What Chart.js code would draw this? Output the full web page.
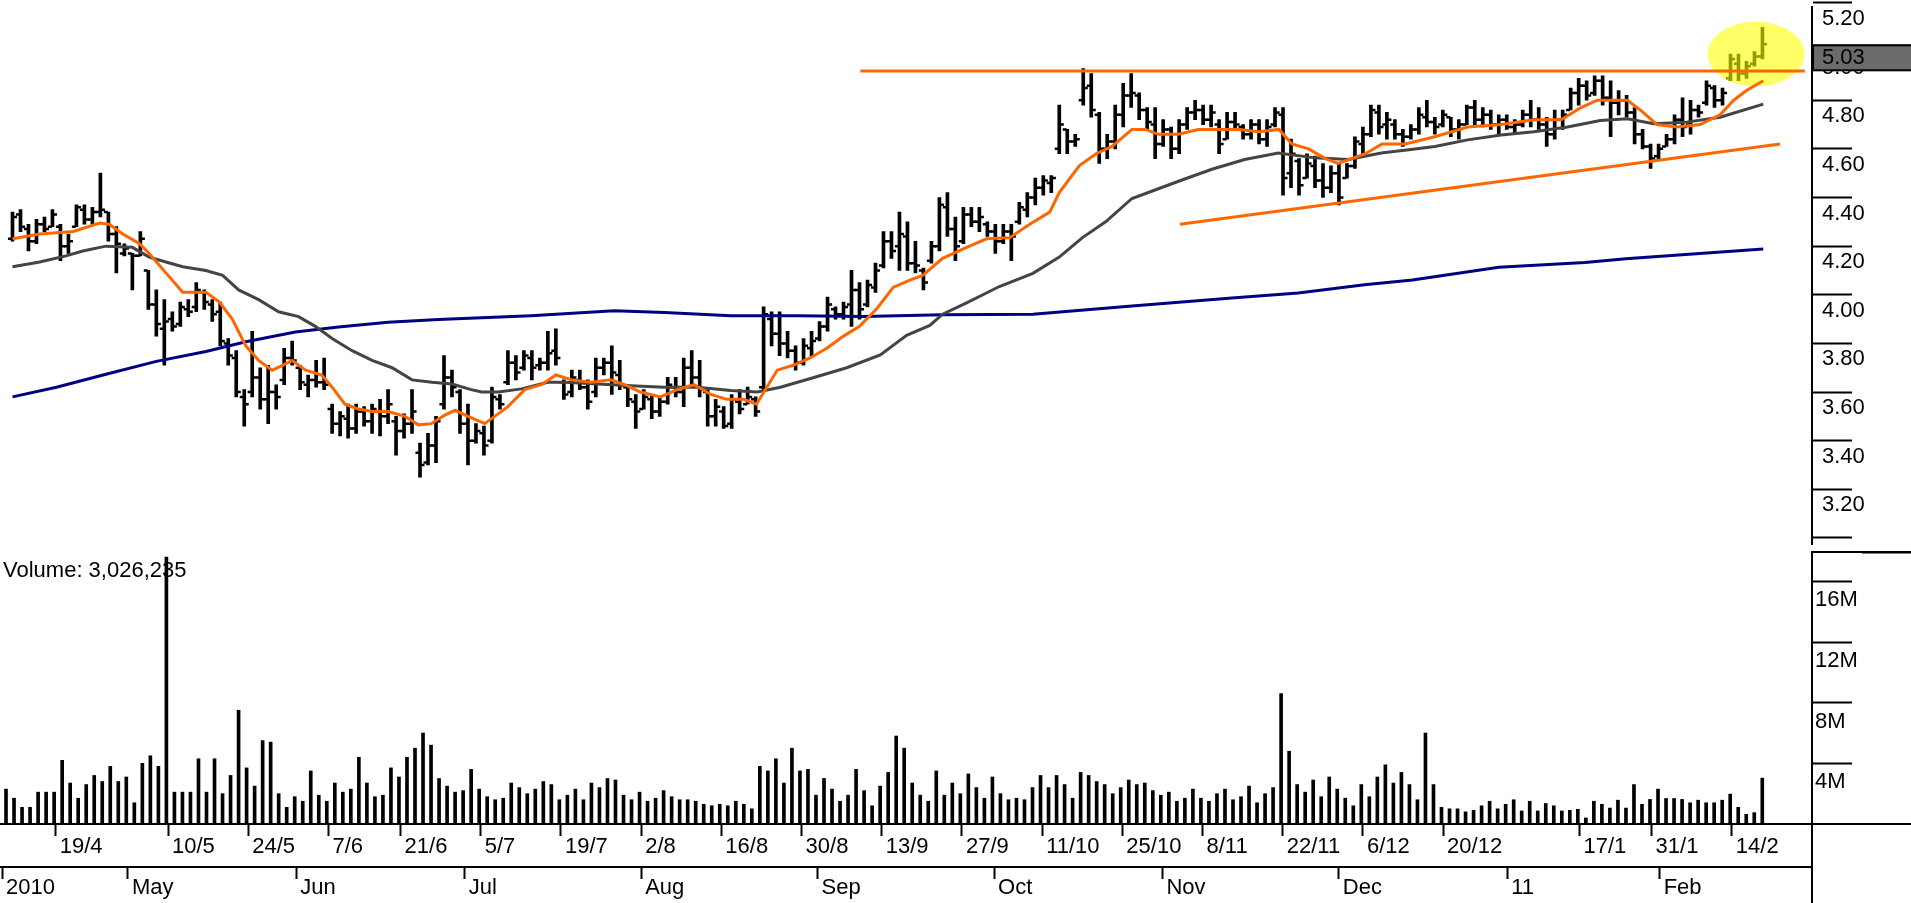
<!DOCTYPE html>
<html>
<head>
<meta charset="utf-8">
<title>Daily price and volume</title>
<script src="https://cdn.jsdelivr.net/npm/chart.js"></script>
<style>
  html, body { margin: 0; padding: 0; background: #fff; }
  #wrap { position: relative; width: 1911px; height: 903px; overflow: hidden; }
  canvas { position: absolute; left: 0; }
  #price-chart { top: 0; }
  #volume-chart { top: 551px; }
</style>
</head>
<body>
<div id="wrap">
  <canvas id="price-chart" width="1911" height="551"></canvas>
  <canvas id="volume-chart" width="1911" height="352"></canvas>
</div>
<script>
// daily bars, 9/4/2010 .. 18/2/2011 (index 0..219)
const highs = [
  4.34,4.35,4.29,4.31,4.32,4.35,4.29,4.25,4.37,4.37, 4.36,4.50,4.34,4.28,4.21,4.17,4.26,4.10,4.02,3.98,
  3.93,3.97,3.98,4.05,4.02,3.98,3.97,3.82,3.77,3.61, 3.85,3.70,3.71,3.63,3.78,3.81,3.71,3.67,3.73,3.74,
  3.55,3.52,3.55,3.55,3.54,3.55,3.57,3.61,3.50,3.51, 3.61,3.39,3.43,3.50,3.75,3.69,3.61,3.55,3.47,3.46,
  3.62,3.59,3.77,3.75,3.77,3.77,3.74,3.85,3.86,3.65, 3.69,3.69,3.65,3.74,3.74,3.79,3.73,3.63,3.59,3.61,
  3.59,3.58,3.66,3.66,3.74,3.77,3.73,3.61,3.57,3.54, 3.59,3.61,3.62,3.58,3.95,3.93,3.93,3.85,3.79,3.82,
  3.85,3.89,3.99,3.95,3.97,4.10,4.05,4.06,4.13,4.26, 4.26,4.34,4.30,4.22,4.11,4.22,4.40,4.42,4.32,4.36,
  4.36,4.36,4.30,4.29,4.29,4.29,4.38,4.42,4.48,4.49, 4.49,4.78,4.68,4.66,4.93,4.91,4.75,4.66,4.78,4.87,
  4.91,4.83,4.77,4.77,4.72,4.69,4.72,4.77,4.80,4.78, 4.78,4.72,4.75,4.75,4.70,4.72,4.72,4.72,4.77,4.77,
  4.64,4.56,4.58,4.57,4.54,4.53,4.54,4.54,4.65,4.69, 4.78,4.78,4.75,4.72,4.68,4.70,4.77,4.80,4.73,4.76,
  4.73,4.72,4.78,4.80,4.77,4.76,4.74,4.74,4.72,4.76, 4.80,4.77,4.73,4.76,4.76,4.85,4.89,4.88,4.90,4.90,
  4.88,4.84,4.82,4.77,4.68,4.62,4.62,4.66,4.74,4.81, 4.80,4.78,4.88,4.86,4.85,4.99,4.99,4.96,5.00,5.10
];
const lows = [
  4.22,4.26,4.18,4.21,4.26,4.28,4.14,4.17,4.28,4.29, 4.29,4.32,4.22,4.09,4.16,4.02,4.16,3.94,3.83,3.71,
  3.85,3.87,3.91,3.93,3.94,3.89,3.79,3.71,3.58,3.46, 3.58,3.53,3.47,3.53,3.63,3.71,3.61,3.58,3.62,3.61,
  3.43,3.42,3.41,3.43,3.46,3.43,3.42,3.47,3.34,3.41, 3.43,3.25,3.30,3.31,3.53,3.58,3.43,3.30,3.39,3.34,
  3.39,3.53,3.63,3.65,3.69,3.65,3.69,3.69,3.71,3.57, 3.58,3.61,3.53,3.58,3.67,3.59,3.61,3.54,3.45,3.53,
  3.49,3.50,3.55,3.58,3.54,3.63,3.58,3.46,3.46,3.45, 3.45,3.51,3.55,3.50,3.61,3.79,3.75,3.74,3.69,3.71,
  3.75,3.81,3.85,3.90,3.90,3.87,3.90,3.95,4.01,4.11, 4.15,4.10,4.10,4.09,4.02,4.13,4.18,4.24,4.14,4.21,
  4.28,4.26,4.24,4.17,4.21,4.14,4.29,4.32,4.37,4.41, 4.42,4.58,4.58,4.61,4.78,4.73,4.54,4.56,4.60,4.69,
  4.77,4.72,4.68,4.56,4.61,4.56,4.58,4.68,4.72,4.70, 4.69,4.58,4.64,4.68,4.64,4.64,4.62,4.61,4.69,4.41,
  4.44,4.41,4.48,4.44,4.40,4.42,4.37,4.48,4.52,4.58, 4.65,4.66,4.64,4.64,4.61,4.64,4.66,4.69,4.66,4.69,
  4.65,4.64,4.70,4.70,4.69,4.68,4.66,4.68,4.66,4.69, 4.69,4.68,4.61,4.64,4.68,4.76,4.78,4.80,4.82,4.78,
  4.65,4.74,4.73,4.62,4.60,4.52,4.56,4.61,4.62,4.65, 4.66,4.73,4.78,4.77,4.78,4.88,4.88,4.89,4.94,4.97
];
const opens = [
  4.23,4.33,4.27,4.22,4.29,4.28,4.28,4.20,4.28,4.35, 4.31,4.34,4.34,4.25,4.17,4.17,4.16,4.10,3.96,3.86,
  3.90,3.88,3.94,3.95,4.01,3.96,3.93,3.80,3.74,3.58, 3.60,3.66,3.57,3.60,3.65,3.74,3.70,3.63,3.65,3.64,
  3.53,3.47,3.49,3.45,3.52,3.48,3.52,3.50,3.48,3.44, 3.47,3.35,3.31,3.38,3.55,3.66,3.60,3.47,3.40,3.43,
  3.40,3.57,3.64,3.72,3.70,3.74,3.71,3.72,3.77,3.64, 3.60,3.65,3.62,3.60,3.70,3.72,3.67,3.62,3.56,3.53,
  3.57,3.52,3.56,3.62,3.60,3.70,3.66,3.60,3.50,3.52, 3.47,3.56,3.55,3.57,3.62,3.90,3.84,3.80,3.77,3.72,
  3.78,3.82,3.87,3.94,3.92,3.96,4.02,3.96,4.03,4.12, 4.22,4.20,4.24,4.13,4.10,4.14,4.20,4.36,4.27,4.22,
  4.33,4.30,4.29,4.26,4.22,4.26,4.30,4.35,4.40,4.44, 4.46,4.60,4.68,4.63,4.80,4.86,4.74,4.60,4.63,4.74,
  4.82,4.82,4.76,4.70,4.62,4.68,4.60,4.70,4.75,4.76, 4.72,4.70,4.64,4.71,4.69,4.66,4.70,4.64,4.70,4.74,
  4.50,4.55,4.48,4.53,4.47,4.44,4.50,4.48,4.53,4.62, 4.66,4.75,4.70,4.70,4.66,4.65,4.68,4.73,4.71,4.70,
  4.73,4.68,4.70,4.77,4.72,4.74,4.70,4.72,4.69,4.70, 4.74,4.72,4.70,4.66,4.72,4.76,4.83,4.86,4.83,4.88,
  4.81,4.79,4.80,4.75,4.66,4.61,4.57,4.61,4.64,4.72, 4.70,4.76,4.79,4.85,4.80,4.89,4.95,4.91,4.95,4.98
];
const closes = [
  4.32,4.28,4.22,4.29,4.27,4.33,4.20,4.22,4.36,4.31, 4.34,4.35,4.25,4.21,4.19,4.16,4.23,3.96,3.88,3.89,
  3.87,3.95,3.93,4.02,3.97,3.92,3.81,3.75,3.60,3.55, 3.66,3.57,3.60,3.58,3.74,3.73,3.64,3.65,3.64,3.63,
  3.47,3.50,3.45,3.52,3.48,3.53,3.50,3.55,3.44,3.47, 3.52,3.30,3.38,3.48,3.66,3.62,3.47,3.40,3.44,3.38,
  3.58,3.55,3.72,3.68,3.75,3.70,3.72,3.76,3.74,3.59, 3.66,3.62,3.56,3.70,3.72,3.68,3.63,3.57,3.52,3.58,
  3.52,3.56,3.63,3.60,3.70,3.66,3.61,3.50,3.54,3.46, 3.57,3.53,3.58,3.52,3.92,3.84,3.80,3.77,3.72,3.79,
  3.81,3.87,3.96,3.92,3.95,4.02,3.94,4.04,4.10,4.22, 4.18,4.25,4.13,4.12,4.05,4.20,4.37,4.27,4.20,4.33,
  4.30,4.32,4.26,4.22,4.26,4.24,4.36,4.40,4.44,4.47, 4.48,4.70,4.63,4.64,4.85,4.76,4.60,4.63,4.74,4.82,
  4.83,4.76,4.71,4.62,4.68,4.60,4.70,4.75,4.76,4.72, 4.75,4.62,4.71,4.70,4.66,4.70,4.64,4.69,4.75,4.48,
  4.58,4.45,4.54,4.47,4.44,4.50,4.40,4.53,4.63,4.66, 4.76,4.69,4.72,4.66,4.65,4.68,4.74,4.71,4.69,4.74,
  4.68,4.70,4.77,4.72,4.74,4.70,4.72,4.69,4.70,4.74, 4.72,4.70,4.66,4.72,4.74,4.83,4.86,4.82,4.88,4.81,
  4.79,4.80,4.75,4.66,4.61,4.56,4.60,4.64,4.72,4.69, 4.76,4.75,4.86,4.80,4.83,4.97,4.91,4.94,4.98,5.03
];
// volume in millions of shares
const volumes = [
  2.3,1.7,1.1,1.1,2.1,2.1,2.1,4.2,2.7,1.7, 2.6,3.2,2.8,3.8,2.8,3.1,1.4,4.0,4.5,3.8,
  17.6,2.1,2.1,2.1,4.3,2.1,4.3,2.0,3.2,7.5, 3.7,2.5,5.5,5.4,2.0,1.1,1.8,1.5,3.5,1.9,
  1.5,2.7,2.1,2.3,4.4,2.7,1.8,1.9,3.7,3.1, 4.4,5.0,6.0,5.2,3.0,2.5,2.1,2.2,3.6,2.3,
  1.8,1.6,1.7,2.7,2.4,2.0,2.3,2.8,2.6,1.6, 1.9,2.3,1.6,2.7,2.4,3.0,2.9,1.9,1.6,2.1,
  1.5,1.7,2.2,1.8,1.6,1.6,1.5,1.3,1.2,1.3, 1.2,1.5,1.3,1.0,3.8,3.5,4.3,2.7,5.0,3.5,
  3.6,1.9,3.0,2.3,1.5,1.9,3.6,2.2,1.2,2.5, 3.4,5.8,5.0,2.7,1.9,1.5,3.5,1.9,2.7,2.0,
  3.3,2.4,1.7,3.1,2.0,1.6,1.7,1.6,2.4,3.2, 2.4,3.2,2.6,1.7,3.4,3.2,2.8,2.6,2.0,2.4,
  2.9,2.6,2.7,2.2,1.9,2.1,1.5,1.7,2.3,1.7, 1.5,2.0,2.3,1.6,1.8,2.5,1.4,2.0,2.4,8.6,
  4.8,2.6,2.1,2.9,1.8,3.1,2.3,1.7,1.2,2.6, 1.8,3.1,3.9,2.7,3.4,2.6,1.6,6.0,2.6,1.1,
  1.0,1.0,0.8,0.9,1.2,1.5,1.0,1.3,1.6,0.86, 1.5,0.86,1.35,1.2,0.86,0.9,0.97,0.4,1.5,1.3,
  1.05,1.57,1.05,2.6,1.3,1.62,2.3,1.68,1.68,1.62, 1.4,1.57,1.4,1.4,1.57,1.97,1.1,0.64,0.75,3.026235
];

// moving averages: [bar index, price]
const fastMA = [
  [0,4.23],[3.4,4.25],[7.6,4.26],[10.9,4.295],[12.1,4.29],[13.8,4.25],[15.9,4.21],[17.1,4.17],
  [19.2,4.09],[21.3,4.01],[22.5,4.01],[24.2,4.01],[25.9,3.97],[27.5,3.90],[29.2,3.79],[30.8,3.73],
  [32.5,3.69],[33.8,3.71],[35,3.73],[36.7,3.69],[38.7,3.67],[40,3.62],[41.6,3.55],[43.3,3.53],
  [45,3.52],[47,3.52],[49.1,3.50],[50.8,3.465],[52.4,3.47],[54.1,3.505],[55.4,3.525],[57,3.50],
  [59.1,3.47],[62,3.54],[64.1,3.61],[66.2,3.63],[68,3.67],[70,3.65],[72.4,3.64],[74.9,3.65],
  [76.6,3.63],[78.6,3.60],[81.1,3.58],[83.2,3.61],[85.3,3.63],[87.4,3.59],[89.4,3.57],[91.5,3.57],
  [93.1,3.55],[94.4,3.62],[95.7,3.69],[97.7,3.71],[99.8,3.74],[101.9,3.78],[104,3.83],[106,3.87],
  [108.1,3.94],[110.2,4.03],[112.3,4.06],[113.9,4.08],[116.4,4.15],[119.4,4.195],[121.9,4.23],
  [124.8,4.235],[127.3,4.29],[129.8,4.34],[131,4.42],[133.5,4.53],[135.6,4.58],[137.6,4.61],
  [140.1,4.68],[141.8,4.68],[143.4,4.66],[145.9,4.66],[148.4,4.68],[150.9,4.68],[153.5,4.68],
  [156,4.67],[158.5,4.68],[160.1,4.62],[162.2,4.60],[164.3,4.56],[165.9,4.54],[167.6,4.56],
  [169.3,4.58],[171.4,4.62],[174.3,4.62],[178,4.65],[182.1,4.69],[186.3,4.70],[190.4,4.72],
  [193.8,4.72],[196.3,4.77],[198.3,4.80],[202.1,4.80],[203.7,4.76],[205.8,4.70],[208.3,4.69],
  [211.2,4.70],[213.7,4.74],[215.4,4.80],[217,4.84],[219.1,4.88]
];
const slowMA = [
  [0,4.115],[3.4,4.135],[6.7,4.16],[8.8,4.18],[11.7,4.20],[15,4.195],[17.1,4.155],[19.2,4.135],
  [21.3,4.115],[24.2,4.10],[26.3,4.08],[28.3,4.02],[30.8,3.98],[33.3,3.93],[35.8,3.91],[37.9,3.87],
  [40,3.82],[42.5,3.77],[45,3.73],[47.5,3.70],[50,3.65],[52.5,3.64],[55,3.633],[57.4,3.61],
  [58.7,3.60],[60.8,3.60],[63.7,3.613],[67,3.64],[69.1,3.64],[73.3,3.633],[77.4,3.626],[81.6,3.62],
  [85.7,3.62],[89.9,3.606],[93.2,3.60],[96.1,3.62],[100.3,3.66],[104.4,3.70],[108.6,3.753],
  [111.9,3.833],[114.8,3.874],[116.4,3.92],[119.4,3.967],[123.5,4.034],[127.7,4.088],[131,4.155],
  [133.9,4.235],[136.8,4.30],[140.1,4.396],[143.4,4.436],[146.7,4.476],[150.1,4.516],[154.2,4.556],
  [158.4,4.583],[163,4.563],[167.2,4.556],[171.3,4.583],[175,4.597],[178,4.61],[182.1,4.637],
  [186.3,4.657],[190.4,4.67],[194.6,4.69],[198.7,4.717],[202.1,4.724],[205.4,4.703],[209.5,4.71],
  [213.7,4.73],[219.1,4.784]
];
const longMA = [
  [0,3.58],[5.5,3.62],[11.7,3.673],[18,3.726],[24.2,3.767],[29.2,3.807],[35.4,3.847],[40.8,3.867],
  [47,3.887],[53.3,3.898],[64.9,3.914],[75.3,3.934],[81.6,3.927],[89.9,3.914],[98.2,3.914],
  [106.5,3.911],[116.4,3.918],[127.7,3.92],[140.1,3.954],[152.6,3.987],[160.9,4.007],[169.2,4.041],
  [175.2,4.061],[186,4.113],[196.8,4.133],[201.9,4.148],[219.1,4.188]
];

// hand drawn trend lines and highlight
const resistance = [[106.1,4.92],[224.3,4.92]];
const support = [[146.1,4.29],[221.2,4.62]];
const highlight = { x: 218.2, y: 4.99, rx: 6.05, ry: 0.133 };

// axis ticks
const priceTicks = [3.0,3.2,3.4,3.6,3.8,4.0,4.2,4.4,4.6,4.8,5.0,5.2];
const volumeTicks = [4,8,12,16];
const weekTicks = [6,20,30,40,49,59,69,79,89,99,109,119,129,139,149,159,169,179,196,205,215];
const weekLabels = ['19/4','10/5','24/5','7/6','21/6','5/7','19/7','2/8','16/8','30/8','13/9',
  '27/9','11/10','25/10','8/11','22/11','6/12','20/12','17/1','31/1','14/2'];
const monthTicks = [-0.7,15,36,57,79,101,123,144,166,187,206];
const monthLabels = ['2010','May','Jun','Jul','Aug','Sep','Oct','Nov','Dec','11','Feb'];

const FONT = '"Liberation Sans", Arial, sans-serif';
Chart.defaults.font.family = FONT;
Chart.defaults.color = '#000';

const X_MIN = -0.75, X_MAX = 225.2;
const toPts = arr => arr.map(p => ({ x: p[0], y: p[1] }));

const lineSet = (label, pts, color, order) => ({
  type: 'line', label, data: toPts(pts), borderColor: color, borderWidth: 3,
  pointRadius: 0, tension: 0, order
});
const tickSet = (label, vals, shift) => ({
  type: 'line', label, showLine: false, order: 5,
  data: vals.map((v, i) => ({ x: i + shift, y: v })),
  pointStyle: 'line', pointRadius: 2, pointBorderWidth: 2.5, pointBorderColor: '#000'
});

const priceDecor = {
  id: 'priceDecor',
  afterDatasetDraw(chart, args) {
    // yellow highlight goes over the bars but under the lines
    if (args.index !== 0) return;
    const { x, y } = chart.scales;
    const ctx = chart.ctx;
    const cx = x.getPixelForValue(highlight.x), cy = y.getPixelForValue(highlight.y);
    const rx = x.getPixelForValue(highlight.x + highlight.rx) - cx;
    const ry = cy - y.getPixelForValue(highlight.y + highlight.ry);
    ctx.save();
    ctx.fillStyle = 'rgba(255,255,0,0.6)';
    ctx.beginPath();
    ctx.ellipse(cx, cy, rx, ry, 0, 0, Math.PI * 2);
    ctx.fill();
    ctx.restore();
  },
  afterDraw(chart) {
    // last price box on the axis
    const ctx = chart.ctx, area = chart.chartArea, y = chart.scales.y;
    const last = closes[closes.length - 1];
    const top = y.getPixelForValue(last);
    ctx.save();
    ctx.fillStyle = '#6b6b6b';
    ctx.fillRect(area.right, top, chart.width - area.right, 26);
    ctx.strokeStyle = '#000';
    ctx.lineWidth = 2;
    ctx.strokeRect(area.right + 1, top + 1, chart.width - area.right, 25);
    ctx.fillStyle = '#000';
    ctx.font = '22px ' + FONT;
    ctx.textBaseline = 'middle';
    ctx.fillText(last.toFixed(2), area.right + 10, top + 14);
    ctx.restore();
  }
};

new Chart(document.getElementById('price-chart'), {
  type: 'bar',
  data: {
    datasets: [
      { type: 'bar', label: 'High-Low', data: highs.map((h, i) => ({ x: i, y: [lows[i], h] })),
        backgroundColor: '#000', barThickness: 3, order: 5 },
      tickSet('Open', opens, -0.32),
      tickSet('Close', closes, 0.32),
      lineSet('Long MA', longMA, '#000080', 2),
      lineSet('Slow MA', slowMA, '#444444', 1),
      lineSet('Fast MA', fastMA, '#ff6600', 0),
      lineSet('Resistance', resistance, '#ff6600', 0),
      lineSet('Support', support, '#ff6600', 0)
    ]
  },
  options: {
    responsive: false, animation: false, devicePixelRatio: 1, events: [],
    layout: { padding: 0 },
    plugins: { legend: { display: false }, tooltip: { enabled: false } },
    scales: {
      x: { type: 'linear', min: X_MIN, max: X_MAX, offset: false, display: false },
      y: {
        type: 'linear', position: 'right', min: 2.973, max: 5.1855,
        afterBuildTicks: s => { s.ticks = priceTicks.map(v => ({ value: v })); },
        afterFit: s => { s.width = 99; },
        grid: { drawOnChartArea: false, offset: false, tickLength: 40, tickColor: '#000', tickWidth: 2 },
        border: { color: '#000', width: 2 },
        // the 3.00 label falls under the volume panel, only its tick shows
        ticks: { font: { size: 22 }, padding: -30, labelOffset: 16,
          callback: v => (v < 3.1 ? '' : v.toFixed(2)) }
      }
    }
  },
  plugins: [priceDecor]
});

const volumeDecor = {
  id: 'volumeDecor',
  beforeDatasetsDraw(chart) {
    const ctx = chart.ctx, area = chart.chartArea;
    const last = Math.round(volumes[volumes.length - 1] * 1e6).toLocaleString('en-US');
    ctx.save();
    ctx.fillStyle = '#000';
    ctx.font = '22px ' + FONT;
    ctx.textBaseline = 'middle';
    ctx.fillText('Volume: ' + last, 3, area.top + 20);
    ctx.restore();
  },
  afterDraw(chart) {
    const ctx = chart.ctx, area = chart.chartArea;
    ctx.save();
    ctx.strokeStyle = '#000';
    ctx.lineWidth = 2;
    ctx.beginPath();
    ctx.moveTo(area.right, area.top + 1); ctx.lineTo(chart.width, area.top + 1);
    ctx.moveTo(area.right, area.bottom); ctx.lineTo(chart.width, area.bottom);
    ctx.moveTo(area.right, area.bottom); ctx.lineTo(area.right, chart.height);
    ctx.stroke();
    ctx.lineWidth = 3;
    ctx.beginPath();
    ctx.moveTo(area.right + 50, area.top + 1); ctx.lineTo(chart.width, area.top + 1);
    ctx.stroke();
    ctx.restore();
  }
};

const dateAxis = (ticksAt, labels, height, weight, pad) => ({
  type: 'linear', position: 'bottom', min: X_MIN, max: X_MAX, offset: false, weight,
  afterBuildTicks: s => { s.ticks = ticksAt.map(v => ({ value: v + 0.2 })); },
  afterFit: s => { s.height = height; },
  grid: { drawOnChartArea: false, offset: false, tickLength: 12, tickColor: '#000', tickWidth: 2 },
  border: { color: '#000', width: 2 },
  ticks: { autoSkip: false, maxRotation: 0, minRotation: 0, align: 'start', labelOffset: 4,
    padding: pad, font: { size: 22 }, callback: (v, i) => labels[i] }
});

new Chart(document.getElementById('volume-chart'), {
  type: 'bar',
  data: {
    datasets: [{
      label: 'Volume', data: volumes.map((v, i) => ({ x: i, y: v })),
      backgroundColor: '#000', barThickness: 3
    }]
  },
  options: {
    responsive: false, animation: false, devicePixelRatio: 1, events: [],
    layout: { padding: 0 },
    plugins: { legend: { display: false }, tooltip: { enabled: false } },
    scales: {
      x: dateAxis(weekTicks, weekLabels, 43, 0, -2),
      x2: dateAxis(monthTicks, monthLabels, 36, 1, -4),
      y: {
        type: 'linear', position: 'right', min: 0, max: 18,
        afterBuildTicks: s => { s.ticks = volumeTicks.map(v => ({ value: v })); },
        afterFit: s => { s.width = 99; },
        grid: { drawOnChartArea: false, offset: false, tickLength: 40, tickColor: '#000', tickWidth: 2 },
        border: { color: '#000', width: 2 },
        ticks: { font: { size: 22 }, padding: -37, labelOffset: 19, callback: v => v + 'M' }
      }
    }
  },
  plugins: [volumeDecor]
});
</script>
</body>
</html>
